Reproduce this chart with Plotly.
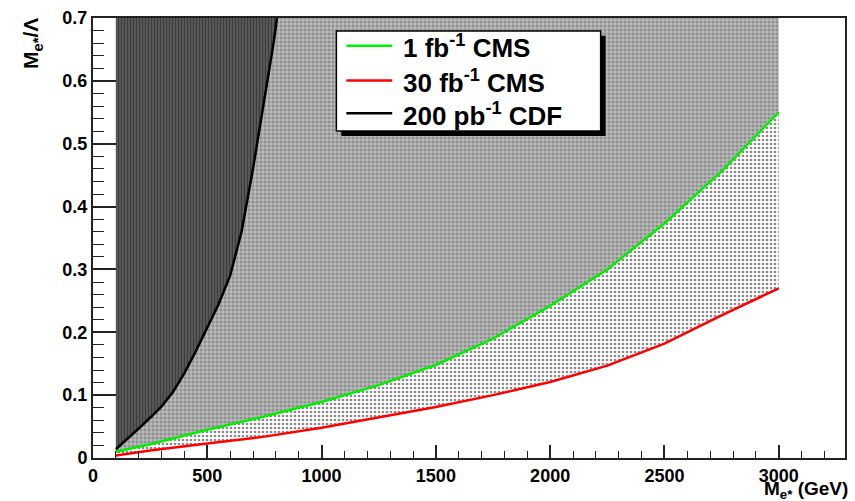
import plotly.graph_objects as go

# ---- data ----
mass_cms = [100, 250, 500, 750, 1000, 1250, 1500, 1750, 2000, 2250, 2500, 2750, 3000]
lim_1fb = [0.010, 0.022, 0.045, 0.066, 0.089, 0.116, 0.148, 0.190, 0.242, 0.300, 0.373, 0.456, 0.550]
lim_30fb = [0.004, 0.012, 0.023, 0.034, 0.048, 0.064, 0.081, 0.100, 0.121, 0.147, 0.182, 0.227, 0.270]

mass_cdf = [100, 150, 200, 250, 300, 350, 400, 450, 500, 550, 600, 650, 700, 750, 790, 805]
lim_cdf = [0.014, 0.030, 0.047, 0.064, 0.082, 0.105, 0.135, 0.170, 0.207, 0.245, 0.290, 0.360, 0.460, 0.570, 0.660, 0.700]

legend_names = ["1 fb<sup>-1</sup> CMS", "30 fb<sup>-1</sup> CMS", "200 pb<sup>-1</sup> CDF"]
line_colors = ["#00ee00", "#ff0000", "#000000"]
y_top = 0.7

FONT = "Liberation Sans"

fig = go.Figure()

# medium region: above 1 fb-1 line up to top
fig.add_trace(go.Scatter(
    x=mass_cms + [mass_cms[-1], mass_cms[0]],
    y=lim_1fb + [y_top, y_top],
    fill="toself", mode="none", hoverinfo="skip", showlegend=False,
    fillcolor="#a0a0a0",
    fillpattern=dict(shape="+", bgcolor="#8e8e8e", fgcolor="#ffffff", size=4, solidity=0.45),
))
# light region: between 30 fb-1 and 1 fb-1
fig.add_trace(go.Scatter(
    x=mass_cms + mass_cms[::-1],
    y=lim_30fb + lim_1fb[::-1],
    fill="toself", mode="none", hoverinfo="skip", showlegend=False,
    fillcolor="white",
    fillpattern=dict(shape=".", bgcolor="white", fgcolor="#111111", size=4, solidity=0.35),
))
# dark region: left of CDF curve
fig.add_trace(go.Scatter(
    x=mass_cdf + [mass_cdf[0]],
    y=lim_cdf + [y_top],
    fill="toself", mode="none", hoverinfo="skip", showlegend=False,
    fillcolor="#505050",
    fillpattern=dict(shape="|", bgcolor="#5a5a5a", fgcolor="#1e1e1e", size=3, solidity=0.4),
))

# lines
fig.add_trace(go.Scatter(x=mass_cms, y=lim_1fb, mode="lines", name=legend_names[0],
                         line=dict(color=line_colors[0], width=2.5), showlegend=False))
fig.add_trace(go.Scatter(x=mass_cms, y=lim_30fb, mode="lines", name=legend_names[1],
                         line=dict(color=line_colors[1], width=2.5), showlegend=False))
fig.add_trace(go.Scatter(x=mass_cdf, y=lim_cdf, mode="lines", name=legend_names[2],
                         line=dict(color=line_colors[2], width=2.5), showlegend=False))

# ---- manual legend box (paper coords) ----
W, H = 855, 501
ml, mr, mt, mb = 93, 8, 14, 43
pw, ph = W - ml - mr, H - mt - mb

def px(x):
    return (x - ml) / pw

def py(y):
    return 1 - (y - mt) / ph

shapes = []
# shadow
shapes.append(dict(type="rect", xref="paper", yref="paper",
                   x0=px(342), x1=px(607), y0=py(133), y1=py(32),
                   fillcolor="black", line=dict(width=0), layer="above"))
# box
shapes.append(dict(type="rect", xref="paper", yref="paper",
                   x0=px(337), x1=px(602), y0=py(128), y1=py(27),
                   fillcolor="white", line=dict(color="black", width=1.5), layer="above"))
rows = [42, 77, 110]
annotations = []
for name, col, ry in zip(legend_names, line_colors, rows):
    shapes.append(dict(type="line", xref="paper", yref="paper",
                       x0=px(347), x1=px(393), y0=py(ry), y1=py(ry),
                       line=dict(color=col, width=2.5), layer="above"))
    annotations.append(dict(xref="paper", yref="paper", x=px(402), y=py(ry + 1),
                            xanchor="left", yanchor="middle", showarrow=False,
                            text=name, font=dict(family=FONT, size=26, color="black", weight="bold")))

# axis titles
annotations.append(dict(xref="paper", yref="paper", x=px(32), y=py(40),
                        xanchor="center", yanchor="middle", showarrow=False, textangle=-90,
                        text="M<sub>e*</sub>/Λ",
                        font=dict(family=FONT, size=21, color="black", weight="bold")))
annotations.append(dict(xref="paper", yref="paper", x=px(852), y=py(490),
                        xanchor="right", yanchor="middle", showarrow=False,
                        text="M<sub>e*</sub> (GeV)",
                        font=dict(family=FONT, size=19, color="black", weight="bold")))

fig.update_layout(
    width=W, height=H,
    margin=dict(l=ml, r=mr, t=mt, b=mb),
    paper_bgcolor="white", plot_bgcolor="white",
    shapes=shapes, annotations=annotations,
    showlegend=False,
    xaxis=dict(range=[0, 3290], tickmode="linear", tick0=0, dtick=500,
               ticks="inside", ticklen=13, tickwidth=1.5, tickcolor="#222",
               minor=dict(dtick=100, ticks="inside", ticklen=7, tickcolor="#222", tickwidth=1),
               showgrid=False, zeroline=False,
               showline=True, linecolor="#222", linewidth=2, mirror=True,
               tickfont=dict(family=FONT, size=18, color="black", weight="bold")),
    yaxis=dict(range=[0, 0.7], tickmode="linear", tick0=0, dtick=0.1,
               ticks="inside", ticklen=23, tickwidth=1.5, tickcolor="#222",
               minor=dict(dtick=0.02, ticks="inside", ticklen=11, tickcolor="#222", tickwidth=1),
               showgrid=False, zeroline=False,
               showline=True, linecolor="#222", linewidth=2, mirror=True,
               tickfont=dict(family=FONT, size=18, color="black", weight="bold")),
)

fig.write_html("out.html")
